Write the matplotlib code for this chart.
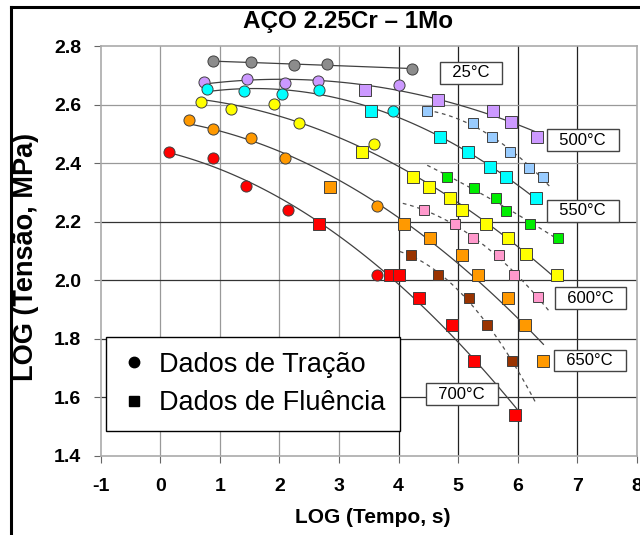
import numpy as np
import matplotlib
matplotlib.use("Agg")
import matplotlib.pyplot as plt
from matplotlib.lines import Line2D

plt.rcParams['font.family'] = ['Liberation Sans', 'DejaVu Sans']

# tensile (circles) and creep (squares) points
gray_circ_x = [0.89, 1.52, 2.24, 2.80, 4.23]
gray_circ_y = [2.749, 2.745, 2.735, 2.738, 2.723]

purple_circ_x = [0.74, 1.46, 2.09, 2.65, 4.01]
purple_circ_y = [2.677, 2.687, 2.675, 2.680, 2.668]
purple_sq_x = [3.44, 4.66, 5.59, 5.89, 6.32]
purple_sq_y = [2.651, 2.617, 2.580, 2.540, 2.491]

cyan_circ_x = [0.78, 1.40, 2.05, 2.66, 3.90]
cyan_circ_y = [2.653, 2.648, 2.635, 2.651, 2.580]
cyan_sq_x = [3.54, 4.69, 5.17, 5.53, 5.80, 6.30]
cyan_sq_y = [2.578, 2.490, 2.439, 2.387, 2.353, 2.280]

lblue_sq_x = [4.48, 5.25, 5.56, 5.87, 6.19, 6.42]
lblue_sq_y = [2.578, 2.539, 2.490, 2.439, 2.385, 2.353]

yellow_circ_x = [0.68, 1.18, 1.91, 2.32, 3.58]
yellow_circ_y = [2.609, 2.587, 2.603, 2.536, 2.467]
yellow_sq_x = [3.38, 4.24, 4.51, 4.87, 5.07, 5.46, 5.84, 6.14, 6.66]
yellow_sq_y = [2.439, 2.353, 2.319, 2.280, 2.239, 2.193, 2.145, 2.089, 2.017]

green_sq_x = [4.82, 5.26, 5.63, 5.81, 6.20, 6.67]
green_sq_y = [2.353, 2.317, 2.280, 2.236, 2.192, 2.145]

pink_sq_x = [4.43, 4.94, 5.24, 5.68, 5.94, 6.34]
pink_sq_y = [2.239, 2.192, 2.145, 2.087, 2.017, 1.943]

orange_circ_x = [0.48, 0.89, 1.52, 2.09, 3.64]
orange_circ_y = [2.549, 2.518, 2.486, 2.418, 2.253]
orange_sq_x = [2.85, 4.09, 4.53, 5.07, 5.34, 5.83, 6.12, 6.42]
orange_sq_y = [2.319, 2.192, 2.145, 2.087, 2.017, 1.941, 1.847, 1.723]

brown_sq_x = [4.21, 4.66, 5.18, 5.48, 5.90]
brown_sq_y = [2.087, 2.017, 1.939, 1.847, 1.725]

red_circ_x = [0.14, 0.89, 1.44, 2.14, 3.64]
red_circ_y = [2.439, 2.417, 2.322, 2.239, 2.017]
red_sq_x = [2.66, 3.85, 4.00, 4.34, 4.89, 5.27, 5.96]
red_sq_y = [2.192, 2.017, 2.017, 1.941, 1.847, 1.723, 1.541]

temp_labels = ['25°C', '500°C', '550°C', '600°C', '650°C', '700°C']
x_ticks = [-1, 0, 1, 2, 3, 4, 5, 6, 7, 8]
y_ticks = [1.4, 1.6, 1.8, 2.0, 2.2, 2.4, 2.6, 2.8]

# (circles, squares, colour, small square, dashed line, line x range)
series = [
    (gray_circ_x, gray_circ_y, [], [], '#8c8c8c', False, False, (0.89, 4.23)),
    (purple_circ_x, purple_circ_y, purple_sq_x, purple_sq_y, '#cc99ff', False, False, (0.74, 6.32)),
    (cyan_circ_x, cyan_circ_y, cyan_sq_x, cyan_sq_y, '#00ffff', False, False, (0.78, 6.30)),
    ([], [], lblue_sq_x, lblue_sq_y, '#99ccff', True, True, (4.48, 6.55)),
    (yellow_circ_x, yellow_circ_y, yellow_sq_x, yellow_sq_y, '#ffff00', False, False, (0.68, 6.66)),
    ([], [], green_sq_x, green_sq_y, '#00ee00', True, True, (4.48, 6.66)),
    ([], [], pink_sq_x, pink_sq_y, '#ff99cc', True, True, (4.07, 6.55)),
    (orange_circ_x, orange_circ_y, orange_sq_x, orange_sq_y, '#ff9900', False, False, (0.48, 6.43)),
    ([], [], brown_sq_x, brown_sq_y, '#993300', True, True, (4.02, 6.30)),
    (red_circ_x, red_circ_y, red_sq_x, red_sq_y, '#ff0000', False, False, (0.14, 6.00)),
]

label_pos = [(5.21, 2.709), (7.09, 2.479), (7.09, 2.237), (7.22, 1.939), (7.21, 1.726), (5.06, 1.611)]

fig = plt.figure(figsize=(6.4, 5.35), dpi=100)
ax = fig.add_axes([0.1573, 0.1477, 0.838, 0.766])

for cx, cy, sx, sy, col, small, dashed, (lo, hi) in series:
    xs = np.array(list(cx) + list(sx))
    ys = np.array(list(cy) + list(sy))
    coef = np.polyfit(xs, ys, 2)
    xx = np.linspace(lo, hi, 100)
    ax.plot(xx, np.polyval(coef, xx), color='#505050' if dashed else '#404040',
            lw=0.9, ls=(0, (3, 3)) if dashed else '-', zorder=2)
    if cx:
        ax.plot(cx, cy, 'o', ms=8, mfc=col, mec='#404040', mew=0.7, ls='none', zorder=3)
    if sx:
        ax.plot(sx, sy, 's', ms=6.5 if small else 8.5, mfc=col, mec='#404040', mew=0.7,
                ls='none', zorder=3)

for txt, (tx, ty) in zip(temp_labels, label_pos):
    ax.text(tx, ty, '  ' + txt + '  ', fontsize=12, ha='center', va='center', zorder=5,
            bbox=dict(boxstyle='square,pad=0.2', fc='white', ec='#444444', lw=1))

ax.set_xlim(-1, 8)
ax.set_ylim(1.4, 2.8)
ax.set_xticks(x_ticks)
ax.set_yticks(y_ticks)
ax.set_xticklabels([str(t) for t in x_ticks], fontweight='bold', fontsize=14)
ax.set_yticklabels([f'{t:.1f}' for t in y_ticks], fontweight='bold', fontsize=14)
ax.tick_params(axis='both', direction='out', length=5, color='#666666')
ax.tick_params(axis='x', pad=11)
ax.tick_params(axis='y', pad=9)

for t in x_ticks[1:-1]:
    ax.axvline(t, color='#999999' if t < 4 else '#222222', lw=0.9, zorder=1)
for t in y_ticks[1:-1]:
    ax.axhline(t, color='#999999' if t > 2.3 else '#333333', lw=0.9, zorder=1)
for sp in ax.spines.values():
    sp.set_color('#aaaaaa')
    sp.set_linewidth(1.2)

handles = [Line2D([], [], marker='o', color='black', ls='none', ms=7.5),
           Line2D([], [], marker='s', color='black', ls='none', ms=7.5)]
leg = ax.legend(handles, ['Dados de Tração', 'Dados de Fluência'], loc='lower left',
                bbox_to_anchor=(0.01, 0.061), borderaxespad=0, fontsize=19.5,
                fancybox=False, edgecolor='black', framealpha=1, handletextpad=0.4,
                borderpad=0.55, labelspacing=0.45, handlelength=1.0)
leg.get_frame().set_linewidth(1)
leg.set_zorder(6)

fig.text(0.544, 0.947, 'AÇO 2.25Cr – 1Mo', fontsize=17.5, fontweight='bold',
         ha='center', va='baseline')
fig.text(0.041, 0.52, 'LOG (Tensão, MPa)', fontsize=19.5, fontweight='bold',
         rotation=90, ha='center', va='center')
fig.text(0.583, 0.032, 'LOG (Tempo, s)', fontsize=15, fontweight='bold',
         ha='center', va='center')

# frame lines from the cropped page
fig.add_artist(Line2D([0.017, 1.0], [0.987, 0.987], color='black', lw=2.2))
fig.add_artist(Line2D([0.017, 0.017], [0.0, 0.987], color='black', lw=2.2))

fig.savefig('out.png', dpi=100)
